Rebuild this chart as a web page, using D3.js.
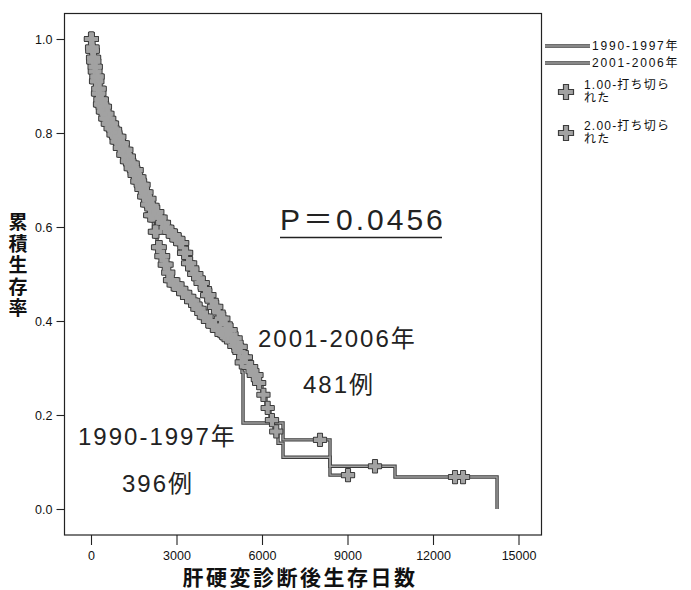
<!DOCTYPE html>
<html><head><meta charset="utf-8">
<script src="https://cdn.jsdelivr.net/npm/d3@7"></script>
<style>body{margin:0;background:#fff} svg{display:block}</style>
</head><body>
<svg id="c" width="691" height="590"></svg>
<script>
// ---------- data ----------
const groups = ["1990-1997年", "2001-2006年"];
const times90 = [0, 35, 70, 123, 175, 246, 316, 404, 491, 579, 667, 772, 877, 1000, 1123, 1246, 1368, 1491, 1614, 1737, 1860, 1965, 2070, 2190, 2316, 2430, 2550, 2660, 2772, 2900, 3050, 3200, 3369, 3480, 3600, 3710, 3825, 3960, 4100, 4260, 4421, 4530, 4650, 4760, 4878, 5000, 5123, 5210, 5299, 5334, 6737, 8386, 10667, 14247];
const surv90  = [1.0, 0.975, 0.952, 0.931, 0.910, 0.884, 0.861, 0.846, 0.831, 0.820, 0.810, 0.797, 0.782, 0.768, 0.754, 0.740, 0.725, 0.711, 0.697, 0.681, 0.665, 0.648, 0.625, 0.590, 0.557, 0.538, 0.520, 0.503, 0.487, 0.478, 0.468, 0.460, 0.451, 0.443, 0.435, 0.426, 0.417, 0.409, 0.400, 0.390, 0.381, 0.375, 0.370, 0.365, 0.360, 0.347, 0.334, 0.312, 0.291, 0.183, 0.147, 0.091, 0.068, 0.0];
const times01 = [0, 35, 70, 123, 175, 246, 316, 404, 491, 579, 667, 772, 877, 1000, 1123, 1246, 1368, 1491, 1614, 1737, 1860, 1965, 2070, 2200, 2330, 2460, 2597, 2730, 2860, 2990, 3123, 3250, 3369, 3480, 3600, 3710, 3825, 3940, 4050, 4170, 4281, 4400, 4530, 4650, 4772, 4950, 5123, 5300, 5474, 5650, 5825, 6000, 6140, 6281, 6420, 6562, 6737, 8386, 9194];
const surv01  = [1.0, 0.982, 0.960, 0.941, 0.920, 0.894, 0.871, 0.856, 0.841, 0.830, 0.820, 0.807, 0.792, 0.778, 0.764, 0.750, 0.735, 0.721, 0.706, 0.690, 0.674, 0.660, 0.645, 0.632, 0.620, 0.609, 0.598, 0.590, 0.582, 0.574, 0.566, 0.545, 0.523, 0.512, 0.500, 0.491, 0.481, 0.468, 0.455, 0.443, 0.430, 0.418, 0.405, 0.393, 0.381, 0.363, 0.345, 0.323, 0.302, 0.285, 0.268, 0.243, 0.215, 0.189, 0.165, 0.140, 0.110, 0.072, 0.072];
const censor90 = [0, 12, 30, 47, 63, 80, 98, 117, 135, 156, 178, 199, 222, 246, 268, 293, 317, 342, 366, 393, 418, 447, 473, 502, 531, 562, 590, 623, 655, 688, 719, 755, 790, 826, 861, 899, 936, 975, 1013, 1054, 1093, 1135, 1177, 1219, 1262, 1306, 1349, 1394, 1440, 1485, 1531, 1578, 1626, 1672, 1721, 1770, 1820, 1868, 1921, 1972, 2024, 2077, 2131, 2186, 2242, 2297, 2354, 2412, 2470, 2530, 2589, 2650, 2711, 2774, 2836, 2900, 2966, 3031, 3097, 3165, 3233, 3302, 3372, 3442, 3514, 3586, 3659, 3733, 3808, 3883, 3960, 4037, 4115, 4194, 4274, 4355, 4436, 4518, 4601, 4685, 4770, 4856, 4942, 5030, 5118, 5207, 5290, 8035, 9965, 12773, 13053];
const censor01 = [0, 18, 38, 55, 72, 90, 108, 127, 146, 167, 189, 211, 234, 257, 281, 305, 330, 354, 380, 406, 432, 460, 488, 516, 546, 576, 607, 639, 671, 704, 737, 772, 808, 843, 880, 917, 955, 994, 1033, 1073, 1114, 1156, 1198, 1240, 1284, 1327, 1371, 1417, 1462, 1508, 1554, 1602, 1649, 1697, 1745, 1795, 1844, 1894, 1946, 1998, 2050, 2104, 2158, 2214, 2270, 2326, 2383, 2441, 2500, 2559, 2620, 2680, 2742, 2805, 2868, 2933, 2998, 3064, 3131, 3199, 3267, 3337, 3407, 3478, 3550, 3622, 3696, 3770, 3845, 3921, 3998, 4076, 4154, 4234, 4314, 4395, 4477, 4559, 4643, 4727, 4813, 4899, 4986, 5074, 5162, 5252, 5342, 5433, 5525, 5618, 5712, 5806, 5900, 6050, 6200, 6350, 6500, 9018];
const xTicks = [0, 3000, 6000, 9000, 12000, 15000];
const yTicks = [0.0, 0.2, 0.4, 0.6, 0.8, 1.0];
const censorLegend = [["1.00-打ち切ら", "れた"], ["2.00-打ち切ら", "れた"]];
const xTitle = "肝硬変診断後生存日数";
const yTitle = "累積生存率";
const pText = "P＝0.0456";
const notes = [
  {t: "2001-2006年", x: 258, y: 347},
  {t: "481例", x: 303, y: 393},
  {t: "1990-1997年", x: 78, y: 445},
  {t: "396例", x: 122, y: 492}
];

// ---------- drawing ----------
const FONT = "'Liberation Sans', Arial, 'Noto Sans CJK JP', sans-serif";
const svg = d3.select("#c");
const x = d3.scaleLinear().domain([0, 15000]).range([91, 518.5]);
const y = d3.scaleLinear().domain([0, 1]).range([509, 39]);
const GRAY = "#a2a2a2", DARK = "#3c3c3c";

// frame
svg.append("rect").attr("x", 64.5).attr("y", 13.5).attr("width", 477).attr("height", 521.5)
  .attr("fill", "none").attr("stroke", "#222").attr("stroke-width", 1.2);

// axes
const xAxis = svg.append("g").attr("transform", "translate(0,535)")
  .call(d3.axisBottom(x).tickValues(xTicks).tickSize(10).tickPadding(6).tickFormat(d3.format("d")));
const yAxis = svg.append("g").attr("transform", "translate(64.5,0)")
  .call(d3.axisLeft(y).tickValues(yTicks).tickSize(8).tickPadding(4).tickFormat(d3.format(".1f")));
[xAxis, yAxis].forEach(a => {
  a.select(".domain").remove();
  a.selectAll("line").attr("stroke", "#222").attr("stroke-width", 1.1);
  a.selectAll("text").attr("font-family", FONT).attr("font-size", 12.5).attr("fill", "#111");
});

// titles
svg.append("text").attr("x", 300).attr("y", 585).attr("text-anchor", "middle")
  .attr("font-family", FONT).attr("font-size", 21).attr("font-weight", "bold").attr("letter-spacing", 2.5)
  .attr("fill", "#111").text(xTitle);
const yt = svg.append("text").attr("font-family", FONT).attr("font-size", 19).attr("font-weight", "bold").attr("fill", "#111");
Array.from(yTitle).forEach((ch, i) => {
  yt.append("tspan").attr("x", 18).attr("y", 229 + i * 21.5).attr("text-anchor", "middle").text(ch);
});

// survival curves
const series = [
  {times: times90, surv: surv90, censor: censor90},
  {times: times01, surv: surv01, censor: censor01}
];
const line = d3.line().x(d => x(d[0])).y(d => y(d[1])).curve(d3.curveStepAfter);
const S = (s, t) => s.surv[Math.max(0, d3.bisectRight(s.times, t) - 1)];

series.forEach(s => {
  const pts = s.times.map((t, i) => [t, s.surv[i]]);
  svg.append("path").attr("d", line(pts)).attr("fill", "none").attr("stroke", DARK).attr("stroke-width", 3.4);
});
series.forEach(s => {
  const pts = s.times.map((t, i) => [t, s.surv[i]]);
  svg.append("path").attr("d", line(pts)).attr("fill", "none").attr("stroke", GRAY).attr("stroke-width", 1.4);
});

const cross = d3.symbol().type(d3.symbolCross).size(84);
const allCensor = series.flatMap(s => s.censor.map(t => [t, S(s, t)]));
svg.append("g").selectAll("path").data(allCensor).join("path")
  .attr("d", cross).attr("transform", d => `translate(${x(d[0])},${y(d[1])})`)
  .attr("fill", DARK).attr("stroke", DARK).attr("stroke-width", 2.0).attr("stroke-linejoin", "round");
svg.append("g").selectAll("path").data(allCensor).join("path")
  .attr("d", cross).attr("transform", d => `translate(${x(d[0])},${y(d[1])})`)
  .attr("fill", GRAY);

// annotations
svg.append("text").attr("x", 280).attr("y", 230).attr("font-family", FONT).attr("font-size", 30)
  .attr("letter-spacing", 3).attr("fill", "#222").text(pText);
svg.append("line").attr("x1", 280).attr("x2", 442).attr("y1", 237.5).attr("y2", 237.5)
  .attr("stroke", "#222").attr("stroke-width", 1.6);
svg.selectAll("text.note").data(notes).join("text").attr("class", "note")
  .attr("x", d => d.x).attr("y", d => d.y).attr("font-family", FONT).attr("font-size", 24)
  .attr("letter-spacing", 2).attr("fill", "#222").text(d => d.t);

// legend
const lg = svg.append("g").attr("font-family", FONT).attr("fill", "#111");
groups.forEach((g, i) => {
  const yy = 46 + i * 17;
  lg.append("line").attr("x1", 545).attr("x2", 590).attr("y1", yy).attr("y2", yy).attr("stroke", DARK).attr("stroke-width", 3.6);
  lg.append("line").attr("x1", 545).attr("x2", 590).attr("y1", yy).attr("y2", yy).attr("stroke", GRAY).attr("stroke-width", 1.6);
  lg.append("text").attr("x", 592).attr("y", yy + 4).attr("font-size", 12).attr("letter-spacing", 1.8).text(g);
});
censorLegend.forEach((lines, i) => {
  const yy = 92 + i * 41;
  const bigCross = d3.symbol().type(d3.symbolCross).size(125);
  lg.append("path").attr("d", bigCross).attr("transform", `translate(566,${yy})`).attr("fill", GRAY)
    .attr("stroke", DARK).attr("stroke-width", 1.2);
  lines.forEach((t, j) => lg.append("text").attr("x", 584).attr("y", yy - 3 + j * 13)
    .attr("font-size", 12).attr("letter-spacing", 1.2).text(t));
});
</script>
</body></html>
